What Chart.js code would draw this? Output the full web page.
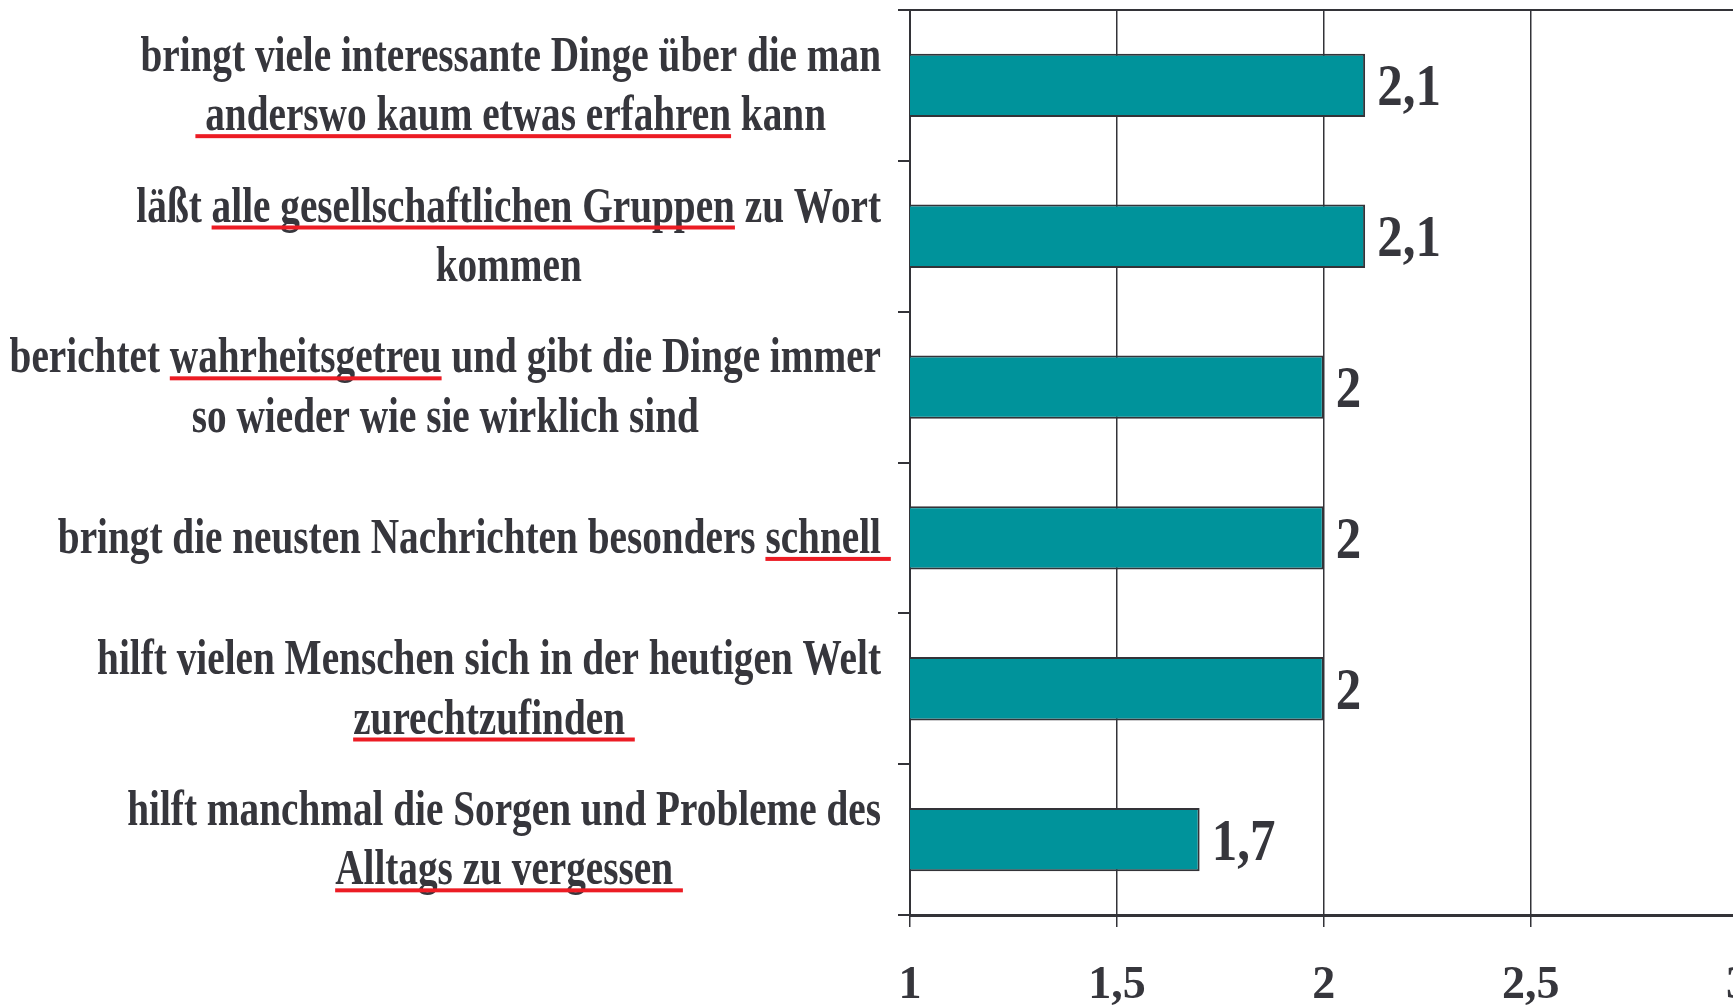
<!DOCTYPE html>
<html>
<head>
<meta charset="utf-8">
<script src="https://cdn.jsdelivr.net/npm/chart.js@4/dist/chart.umd.min.js"></script>
<style>
  html, body { margin: 0; padding: 0; background: #ffffff; overflow: hidden; }
  #wrap { position: relative; width: 1781px; height: 1008px; }
</style>
</head>
<body>
<div id="wrap"><canvas id="c"></canvas></div>
<script>
// ---- data ----
// Square brackets mark the red-underlined part of a line.
const categories = [
  ["bringt viele interessante Dinge über die man", "[ anderswo kaum etwas erfahren] kann"],
  ["läßt [alle gesellschaftlichen Gruppen] zu Wort", "kommen"],
  ["berichtet [wahrheitsgetreu] und gibt die Dinge immer", "so wieder wie sie wirklich sind"],
  ["bringt die neusten Nachrichten besonders [schnell ]"],
  ["hilft vielen Menschen sich in der heutigen Welt", "[zurechtzufinden ]"],
  ["hilft manchmal die Sorgen und Probleme des", "[Alltags zu vergessen ]"]
];
const values = [2.1, 2.1, 2.0, 2.0, 2.0, 1.7];
const valueLabels = ["2,1", "2,1", "2", "2", "2", "1,7"];
const xTickLabels = ["1", "1,5", "2", "2,5", "3"];

const TEXT = '#36363c';
const LINE = '#333338';
const LABEL_FONT = 'bold 50px "Liberation Serif"';
const LABEL_SX = 0.785;
const VALUE_FONT = 'bold 60px "Liberation Serif"';
const VALUE_SX = 0.85;

const plainText = s => s.replace(/[\[\]]/g, '');

const labelPlugin = {
  id: 'customLabels',
  afterDraw(chart) {
    const ctx = chart.ctx;
    const yScale = chart.scales.y;
    const xScale = chart.scales.x;
    ctx.save();
    ctx.font = LABEL_FONT;
    ctx.textBaseline = 'alphabetic';
    ctx.textAlign = 'left';
    const rightEdge = 881;
    categories.forEach((lines, i) => {
      const cy = yScale.getPixelForValue(i);
      const widths = lines.map(l => ctx.measureText(plainText(l).replace(/\s+$/, '')).width * LABEL_SX);
      const blockW = Math.max(...widths);
      const blockCenter = rightEdge - blockW / 2;
      lines.forEach((line, j) => {
        const base = cy + 15 + (j - (lines.length - 1) / 2) * 59.5;
        const txt = plainText(line);
        const x0 = blockCenter - widths[j] / 2;
        ctx.fillStyle = TEXT;
        ctx.save();
        ctx.translate(x0, base);
        ctx.scale(LABEL_SX, 1);
        ctx.fillText(txt, 0, 0);
        ctx.restore();
        const a = line.indexOf('[');
        const b = line.indexOf(']');
        if (a >= 0 && b > a) {
          const before = line.slice(0, a);
          const seg = line.slice(a + 1, b);
          const ux = x0 + ctx.measureText(before).width * LABEL_SX;
          const uw = ctx.measureText(seg).width * LABEL_SX;
          ctx.fillStyle = '#ec1c24';
          ctx.fillRect(ux, base + 4, uw, 4);
        }
      });
    });
    ctx.font = VALUE_FONT;
    ctx.fillStyle = TEXT;
    const meta = chart.getDatasetMeta(0);
    meta.data.forEach((bar, i) => {
      const x = xScale.getPixelForValue(values[i]) + 12;
      ctx.save();
      ctx.translate(x, bar.y + 20);
      ctx.scale(VALUE_SX, 1);
      ctx.fillText(valueLabels[i], 0, 0);
      ctx.restore();
    });
    ctx.restore();
  }
};

new Chart(document.getElementById('c'), {
  type: 'bar',
  data: {
    labels: categories.map(l => l.map(plainText)),
    datasets: [{
      data: values,
      backgroundColor: '#00939b',
      borderColor: LINE,
      borderWidth: 2,
      borderSkipped: false,
      barPercentage: 0.42,
      categoryPercentage: 1.0
    }]
  },
  options: {
    indexAxis: 'y',
    responsive: true,
    maintainAspectRatio: false,
    animation: false,
    layout: { padding: { top: 10, right: 24, left: 0, bottom: 0 } },
    plugins: { legend: { display: false }, tooltip: { enabled: false } },
    scales: {
      x: {
        type: 'linear',
        position: 'bottom',
        min: 1, max: 3,
        afterFit(scale) { scale.height = 93; },
        ticks: {
          stepSize: 0.5,
          padding: 32,
          color: TEXT,
          font: { family: 'Liberation Serif', size: 46, weight: 'bold' },
          callback: (v, i) => xTickLabels[i]
        },
        grid: { color: LINE, lineWidth: 1.5, tickLength: 12, drawTicks: true, tickColor: LINE },
        border: { display: true, color: LINE, width: 3 }
      },
      y: {
        type: 'category',
        afterFit(scale) { scale.width = 910; },
        ticks: { display: false },
        grid: {
          offset: true,
          drawTicks: true,
          tickLength: 12,
          lineWidth: 2,
          tickColor: LINE,
          color: ctx => (ctx.index === 0 ? LINE : 'rgba(0,0,0,0)')
        },
        border: { display: true, color: LINE, width: 2 }
      }
    }
  },
  plugins: [labelPlugin]
});
</script>
</body>
</html>
